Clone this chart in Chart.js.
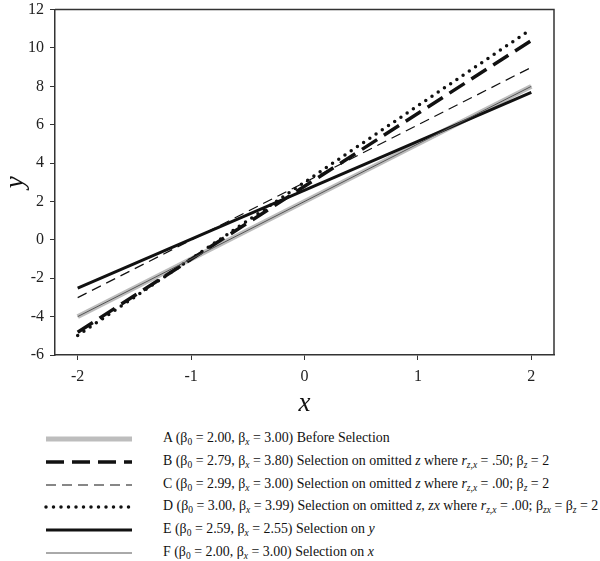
<!DOCTYPE html>
<html>
<head>
<meta charset="utf-8">
<script src="https://cdn.jsdelivr.net/npm/chart.js@4"></script>
<style>
  body { margin: 0; background: #fff; width: 600px; height: 561px; overflow: hidden; position: relative; }
  #wrap { position: absolute; left: 0; top: -6px; width: 600px; height: 426px; }
  #legend { position: absolute; left: 0; top: 429px; width: 600px; font-family: "Liberation Serif", serif; font-size: 13.9px; color: #111; }
  .row { position: absolute; left: 0; height: 20px; width: 600px; white-space: nowrap; }
  .row svg { position: absolute; left: 44px; top: 0; }
  .row span { position: absolute; left: 163px; top: 1px; }
  sub { font-size: 9.5px; vertical-align: -3px; line-height: 0; }
  i { font-style: italic; }
</style>
</head>
<body>
<div id="wrap"><canvas id="chart" width="600" height="426"></canvas></div>
<div id="legend"></div>
<script>
const xEnds = [-2, 2];
const xTicks = [-2, -1, 0, 1, 2];
const yTicks = [-6, -4, -2, 0, 2, 4, 6, 8, 10, 12];
const seriesNames = ["A", "B", "C", "D", "E", "F"];
const valuesA = [-4.00, 8.00];
const valuesB = [-4.81, 10.39];
const valuesC = [-3.01, 8.99];
const valuesD = [-4.98, 10.98];
const valuesE = [-2.51, 7.69];
const valuesF = [-4.00, 8.00];
const legendTexts = [
  "A (β<sub>0</sub> = 2.00, β<sub><i>x</i></sub> = 3.00) Before Selection",
  "B (β<sub>0</sub> = 2.79, β<sub><i>x</i></sub> = 3.80) Selection on omitted <i>z</i> where <i>r</i><sub><i>z,x</i></sub> = .50; β<sub><i>z</i></sub> = 2",
  "C (β<sub>0</sub> = 2.99, β<sub><i>x</i></sub> = 3.00) Selection on omitted <i>z</i> where <i>r</i><sub><i>z,x</i></sub> = .00; β<sub><i>z</i></sub> = 2",
  "D (β<sub>0</sub> = 3.00, β<sub><i>x</i></sub> = 3.99) Selection on omitted <i>z</i>, <i>zx</i> where <i>r</i><sub><i>z,x</i></sub> = .00; β<sub><i>zx</i></sub> = β<sub><i>z</i></sub> = 2",
  "E (β<sub>0</sub> = 2.59, β<sub><i>x</i></sub> = 2.55) Selection on <i>y</i>",
  "F (β<sub>0</sub> = 2.00, β<sub><i>x</i></sub> = 3.00) Selection on <i>x</i>"
];

// line looks, same order as seriesNames
const styles = [
  { color: "#bdbdbd", width: 5, dash: [], cap: "butt", order: 10 },
  { color: "#111", width: 3.5, dash: [18, 8], cap: "butt", order: 2 },
  { color: "#111", width: 1.2, dash: [10, 6], cap: "butt", order: 3 },
  { color: "#111", width: 3.5, dash: [0, 7.5], cap: "round", order: 1 },
  { color: "#111", width: 3, dash: [], cap: "butt", order: 4 },
  { color: "#555", width: 1, dash: [], cap: "butt", order: 0 }
];
const allValues = [valuesA, valuesB, valuesC, valuesD, valuesE, valuesF];

const datasets = seriesNames.map((name, i) => ({
  label: name,
  data: xEnds.map((x, j) => ({ x: x, y: allValues[i][j] })),
  showLine: true,
  pointRadius: 0,
  borderColor: styles[i].color,
  borderWidth: styles[i].width,
  borderDash: styles[i].dash,
  borderCapStyle: styles[i].cap,
  order: styles[i].order
}));

const boxPlugin = {
  id: "box",
  afterDraw(chart) {
    const a = chart.chartArea, c = chart.ctx;
    c.save();
    c.strokeStyle = "#333";
    c.lineWidth = 1.5;
    c.beginPath();
    c.moveTo(a.left, a.top);
    c.lineTo(a.right, a.top);
    c.lineTo(a.right, a.bottom);
    c.stroke();
    c.restore();
  }
};

const serif = "'Liberation Serif', 'Times New Roman', serif";
const tickFont = { family: serif, size: 16 };
new Chart(document.getElementById("chart"), {
  type: "scatter",
  data: { datasets: datasets },
  options: {
    responsive: false,
    animation: false,
    layout: { padding: { top: 0, right: 46, left: 0, bottom: 0 } },
    plugins: { legend: { display: false }, tooltip: { enabled: false } },
    scales: {
      x: {
        type: "linear",
        min: -2.2,
        max: 2.2,
        afterBuildTicks: s => { s.ticks = xTicks.map(v => ({ value: v })); },
        afterFit: s => { s.height = 65; },
        ticks: { font: tickFont, color: "#222", padding: 7 },
        grid: { drawOnChartArea: false, drawTicks: true, tickLength: 5, color: "#333" },
        border: { color: "#333", width: 1.5 },
        title: { display: true, text: "x", font: { family: serif, size: 27, style: "italic" }, color: "#111", padding: { top: 0, bottom: 0 } }
      },
      y: {
        min: -6,
        max: 12,
        afterBuildTicks: s => { s.ticks = yTicks.map(v => ({ value: v })); },
        afterFit: s => { s.width = 55; },
        ticks: { font: tickFont, color: "#222", padding: 6 },
        grid: { drawOnChartArea: false, drawTicks: true, tickLength: 5, color: "#333" },
        border: { color: "#333", width: 1.5 },
        title: { display: true, text: "y", font: { family: serif, size: 27, style: "italic" }, color: "#111", padding: { top: 0, bottom: 0 } }
      }
    }
  },
  plugins: [boxPlugin]
});

// legend below the chart
const legend = document.getElementById("legend");
seriesNames.forEach((name, i) => {
  const row = document.createElement("div");
  row.className = "row";
  row.style.top = (i * 22.8) + "px";
  const st = styles[i];
  const dash = st.dash.length ? st.dash.join(" ") : "none";
  row.innerHTML =
    '<svg width="92" height="20"><line x1="2" y1="10" x2="88" y2="10" stroke="' + st.color +
    '" stroke-width="' + st.width + '" stroke-dasharray="' + dash + '" stroke-linecap="' + st.cap + '"/></svg>' +
    "<span>" + legendTexts[i] + "</span>";
  legend.appendChild(row);
});
</script>
</body>
</html>
